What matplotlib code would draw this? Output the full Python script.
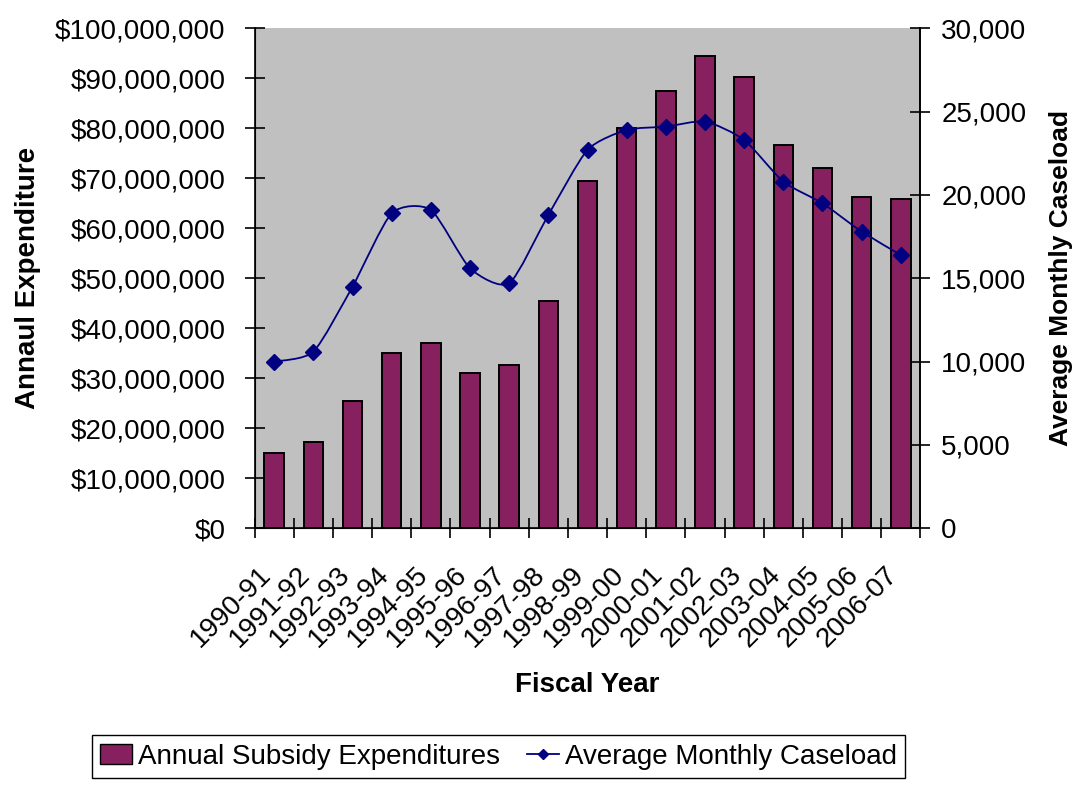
import matplotlib
matplotlib.use("Agg")
import matplotlib.pyplot as plt
from matplotlib.path import Path
from matplotlib.patches import PathPatch, Patch
from matplotlib.lines import Line2D
from matplotlib.ticker import FuncFormatter, MultipleLocator
from matplotlib.transforms import ScaledTranslation
import numpy as np

plt.rcParams['font.family'] = ['Liberation Sans', 'DejaVu Sans']

# data
fiscal_years = ['1990-91', '1991-92', '1992-93', '1993-94', '1994-95', '1995-96',
                '1996-97', '1997-98', '1998-99', '1999-00', '2000-01', '2001-02',
                '2002-03', '2003-04', '2004-05', '2005-06', '2006-07']
expenditures = [15.0e6, 17.2e6, 25.4e6, 35.0e6, 37.0e6, 31.0e6, 32.6e6, 45.5e6,
                69.4e6, 80.0e6, 87.4e6, 94.4e6, 90.2e6, 76.6e6, 72.0e6, 66.2e6, 65.8e6]
caseload = [10000, 10600, 14500, 18900, 19100, 15600, 14700, 18800, 22700,
            23900, 24100, 24400, 23300, 20800, 19500, 17800, 16400]

bar_color = '#86205E'
line_color = '#000080'
bg_color = '#C0C0C0'
fs = 20
title_fs = 20

fig = plt.figure(figsize=(10.79, 7.85), dpi=100)
ax = fig.add_axes([0.236, 0.327, 0.617, 0.637])
ax.set_facecolor(bg_color)

x = np.arange(len(fiscal_years))
ax.bar(x, expenditures, width=0.5, color=bar_color, edgecolor='black', linewidth=1.4, zorder=2)
ax.set_xlim(-0.5, len(fiscal_years) - 0.5)
ax.set_ylim(0, 100e6)
ax.yaxis.set_major_locator(MultipleLocator(10e6))
ax.yaxis.set_major_formatter(FuncFormatter(lambda v, p: '${:,.0f}'.format(v)))

# ticks sit on category boundaries, labels at category centres
ax.set_xticks(np.arange(len(fiscal_years) + 1) - 0.5)
ax.set_xticklabels([])
ax.set_xticks(x, minor=True)
ax.set_xticklabels(fiscal_years, minor=True, rotation=45, ha='right',
                   rotation_mode='anchor', fontsize=fs)
ax.tick_params(axis='x', which='minor', length=0, pad=24)
ax.tick_params(axis='x', which='major', direction='inout', length=14, width=1.2)
ax.tick_params(axis='y', direction='inout', length=14, width=1.2, labelsize=fs, pad=14)
shift = ScaledTranslation(-16 / 100, 0, fig.dpi_scale_trans)
for lbl in ax.get_xticklabels(minor=True):
    lbl.set_transform(lbl.get_transform() + shift)
for s in ax.spines.values():
    s.set_linewidth(1.2)
ax.spines['top'].set_visible(False)

ax.set_ylabel('Annaul Expenditure', fontsize=title_fs, fontweight='bold', labelpad=10)
ax.set_xlabel('Fiscal Year', fontsize=title_fs, fontweight='bold', labelpad=14)

# secondary axis with smoothed caseload line
ax2 = ax.twinx()
ax2.set_ylim(0, 30000)
ax2.yaxis.set_major_locator(MultipleLocator(5000))
ax2.yaxis.set_major_formatter(FuncFormatter(lambda v, p: '{:,.0f}'.format(v)))
ax2.tick_params(axis='y', direction='inout', length=14, width=1.2, labelsize=fs, pad=8)
ax2.spines['top'].set_visible(False)
ax2.spines['right'].set_linewidth(1.2)
ax2.set_ylabel('Average Monthly Caseload', fontsize=19, fontweight='bold', labelpad=16)

pts = np.column_stack([x, caseload]).astype(float)
k = 1 / 9
verts = [pts[0]]
codes = [Path.MOVETO]
for i in range(len(pts) - 1):
    p0 = pts[max(i - 1, 0)]
    p1 = pts[i]
    p2 = pts[i + 1]
    p3 = pts[min(i + 2, len(pts) - 1)]
    verts += [p1 + (p2 - p0) * k, p2 - (p3 - p1) * k, p2]
    codes += [Path.CURVE4] * 3
ax2.add_patch(PathPatch(Path(verts, codes), facecolor='none', edgecolor=line_color,
                        linewidth=1.3, zorder=3))
ax2.plot(x, caseload, linestyle='none', marker='D', markersize=8, color=line_color, zorder=4)

handles = [Patch(facecolor=bar_color, edgecolor='black'),
           Line2D([], [], color=line_color, marker='D', markersize=5, linewidth=1.3)]
fig.legend(handles, ['Annual Subsidy Expenditures', 'Average Monthly Caseload'],
           loc='center', bbox_to_anchor=(0.462, 0.036), ncol=2, fontsize=fs,
           frameon=True, fancybox=False, edgecolor='black', framealpha=1,
           handlelength=1.15, handletextpad=0.2, columnspacing=1.0, borderpad=0.3)

fig.savefig('out.png', dpi=100)
